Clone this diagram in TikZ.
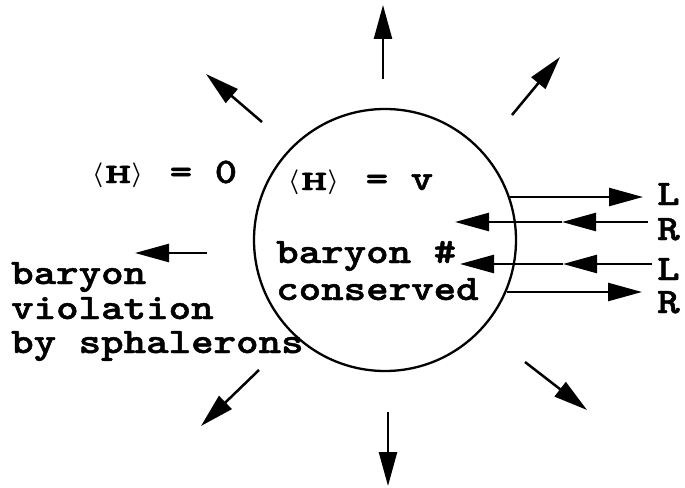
\documentclass[tikz,border=0pt]{standalone}
\usepackage{fontspec}
\usepackage{graphicx}
\newfontfamily\cour{lmmonolt10-bold.otf}[FakeBold=1.2]
\usetikzlibrary{arrows.meta}
\newcommand{\tw}[1]{\scalebox{1.19}[1]{#1}}
\newcommand{\brk}[1]{{\fontsize{25}{25}\selectfont\boldmath\raisebox{1.5pt}{$#1$}}}
\newcommand{\vevH}{\brk{\langle}\kern2pt\scalebox{1.75}[1]{\fontsize{28}{28}\selectfont H}\kern0.5pt\brk{\rangle}}
\tikzset{
  txt/.style={font=\cour\fontsize{36}{36}\selectfont, inner sep=0pt, anchor=base west},
  lab/.style={txt, text depth=0pt, text height=22pt},
  arr/.style={line width=2.5pt, -{Triangle[length=34pt,width=18pt]}},
  bubble/.style={circle, draw, line width=2.3pt, minimum size=262pt, inner sep=0pt}
}
\begin{document}
\begin{tikzpicture}[x=1pt,y=-1pt]
\useasboundingbox (0,0) rectangle (685,487);
% bubble
\node[bubble] (b) at (385,240) {};
% radial arrows
\coordinate (t1) at (383,79);  \coordinate (t2) at (383,5);
\coordinate (tr1) at (512,115); \coordinate (tr2) at (560,57);
\coordinate (tl1) at (262,122); \coordinate (tl2) at (206,74);
\coordinate (l1) at (207,253); \coordinate (l2) at (135,253);
\coordinate (bl1) at (259,370); \coordinate (bl2) at (201,426);
\coordinate (bt1) at (388,412); \coordinate (bt2) at (388,486);
\coordinate (br1) at (525,362); \coordinate (br2) at (587,410);
\draw[arr] (t1) -- (t2);
\draw[arr] (tr1) -- (tr2);
\draw[arr] (tl1) -- (tl2);
\draw[arr] (l1) -- (l2);
\draw[arr] (bl1) -- (bl2);
\draw[arr] (bt1) -- (bt2);
\draw[arr] (br1) -- (br2);
% right side lines
\coordinate (a1) at (510,197); \coordinate (a2) at (643,197);
\coordinate (c1) at (648,222); \coordinate (cm) at (562,222); \coordinate (c2) at (455,222);
\coordinate (d1) at (652,264); \coordinate (dm) at (563,264); \coordinate (d2) at (460,264);
\coordinate (e1) at (507,292); \coordinate (e2) at (642,292);
\draw[arr] (a1) -- (a2);
\draw[arr] (c1) -- (cm);
\draw[arr] (cm) -- (c2);
\draw[arr] (d1) -- (dm);
\draw[arr] (dm) -- (d2);
\draw[arr] (e1) -- (e2);
% labels
\node[lab] (lab1) at (657,205) {\tw{L}};
\node[lab] (lab2) at (657,240) {\tw{R}};
\node[lab] (lab3) at (657,280) {\tw{L}};
\node[lab] (lab4) at (657,313) {\tw{R}};
\node[txt] (h0) at (92,183) {\vevH\kern27pt\tw{= 0}};
\node[txt] (hv) at (288,190) {\vevH\kern27pt\tw{= v}};
\node[txt] (bc1) at (276,263) {\tw{baryon \#}};
\node[txt] (bc2) at (276,300) {\tw{conserved}};
\node[txt] (bv1) at (11,284) {\tw{baryon}};
\node[txt] (bv2) at (11,319) {\tw{violation}};
\node[txt] (bv3) at (11,353) {\tw{by sphalerons}};
\end{tikzpicture}
\end{document}
